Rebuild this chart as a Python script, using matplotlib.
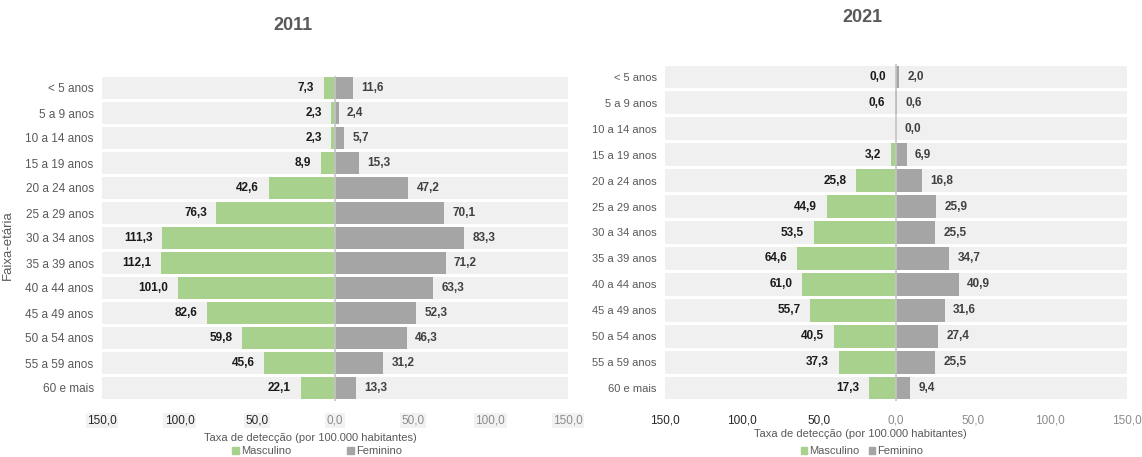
import matplotlib
matplotlib.use('Agg')
import matplotlib.pyplot as plt
from matplotlib.patches import Patch

plt.rcParams['font.family'] = ['Liberation Sans Narrow', 'Liberation Sans', 'DejaVu Sans']

ages = ['< 5 anos', '5 a 9 anos', '10 a 14 anos', '15 a 19 anos', '20 a 24 anos',
        '25 a 29 anos', '30 a 34 anos', '35 a 39 anos', '40 a 44 anos',
        '45 a 49 anos', '50 a 54 anos', '55 a 59 anos', '60 e mais']

masc_2011 = [7.3, 2.3, 2.3, 8.9, 42.6, 76.3, 111.3, 112.1, 101.0, 82.6, 59.8, 45.6, 22.1]
fem_2011 = [11.6, 2.4, 5.7, 15.3, 47.2, 70.1, 83.3, 71.2, 63.3, 52.3, 46.3, 31.2, 13.3]

# None = no bar / no label shown
masc_2021 = [0.0, 0.6, None, 3.2, 25.8, 44.9, 53.5, 64.6, 61.0, 55.7, 40.5, 37.3, 17.3]
fem_2021 = [2.0, 0.6, 0.0, 6.9, 16.8, 25.9, 25.5, 34.7, 40.9, 31.6, 27.4, 25.5, 9.4]

xticks = [-150, -100, -50, 0, 50, 100, 150]
xtick_labels = ['150,0', '100,0', '50,0', '0,0', '50,0', '100,0', '150,0']

GREEN = '#a9d18e'
GRAY = '#a5a5a5'
STRIP = '#f0f0f0'


def fmt(v):
    return ('%.1f' % v).replace('.', ',')


def pyramid(ax, masc, fem, ylab_size, tick_box):
    n = len(ages)
    y = list(range(n))
    h = 0.88
    ax.barh(y, [300] * n, left=-150, height=h, color=STRIP, zorder=0)
    mv = [0 if v is None else v for v in masc]
    ax.barh(y, [-v for v in mv], height=h, color=GREEN, zorder=2)
    ax.barh(y, fem, height=h, color=GRAY, zorder=2)
    ax.axvline(0, color='#c4c4c4', lw=1.2, zorder=3)
    for i in range(n):
        if masc[i] is not None:
            ax.annotate(fmt(masc[i]), (-masc[i], i), xytext=(-7, 0),
                        textcoords='offset points', ha='right', va='center',
                        fontsize=8.5, fontweight='bold', color='#1a1a1a')
        ax.annotate(fmt(fem[i]), (fem[i], i), xytext=(6, 0),
                    textcoords='offset points', ha='left', va='center',
                    fontsize=8.5, fontweight='bold', color='#404040')
    ax.set_xlim(-150, 150)
    ax.set_ylim(n - 0.5, -0.5)
    ax.set_yticks(y)
    ax.set_yticklabels(ages, fontsize=ylab_size, color='#595959')
    ax.set_xticks(xticks)
    ax.set_xticklabels(xtick_labels, fontsize=8.5)
    for k, t in enumerate(ax.get_xticklabels()):
        t.set_color('#262626' if k < 3 else '#8c8c8c')
        if tick_box:
            t.set_bbox(dict(facecolor='#f2f2f2', edgecolor='none', pad=1))
    ax.tick_params(length=0)
    ax.tick_params(axis='x', pad=10)
    ax.tick_params(axis='y', pad=6)
    for s in ax.spines.values():
        s.set_visible(False)


fig = plt.figure(figsize=(11.42, 4.57), dpi=100)

ax1 = fig.add_axes([102 / 1142, 1 - 400.5 / 457, 466 / 1142, 325 / 457])
pyramid(ax1, masc_2011, fem_2011, 8.5, True)

ax2 = fig.add_axes([665 / 1142, 1 - 401 / 457, 462 / 1142, 337 / 457])
pyramid(ax2, masc_2021, fem_2021, 8, False)

fig.text(293 / 1142, 1 - 25 / 457, '2011', ha='center', va='center',
         fontsize=13, fontweight='bold', color='#595959')
fig.text(862 / 1142, 1 - 18 / 457, '2021', ha='center', va='center',
         fontsize=13, fontweight='bold', color='#595959')

fig.text(8 / 1142, 1 - 245 / 457, 'Faixa-etária', rotation=90, ha='center',
         va='center', fontsize=9.5, color='#595959')

fig.text(310 / 1142, 1 - 438 / 457, 'Taxa de detecção (por 100.000 habitantes)',
         ha='center', va='center', fontsize=8, color='#595959')
fig.text(860 / 1142, 1 - 434 / 457, 'Taxa de detecção (por 100.000 habitantes)',
         ha='center', va='center', fontsize=8, color='#595959')

handles = [Patch(color=GREEN, label='Masculino'), Patch(color=GRAY, label='Feminino')]
leg1 = fig.legend(handles=handles, loc='center', bbox_to_anchor=(317 / 1142, 1 - 451 / 457),
                  ncol=2, frameon=False, fontsize=8, handlelength=0.6, handleheight=0.6,
                  handletextpad=0.2, columnspacing=5.0, borderpad=0)
for t in leg1.get_texts():
    t.set_color('#595959')
leg2 = fig.legend(handles=handles, loc='center', bbox_to_anchor=(862 / 1142, 1 - 451 / 457),
                  ncol=2, frameon=False, fontsize=8, handlelength=0.6, handleheight=0.6,
                  handletextpad=0.2, columnspacing=0.8, borderpad=0)
for t in leg2.get_texts():
    t.set_color('#595959')

fig.savefig('out.png', dpi=100)
